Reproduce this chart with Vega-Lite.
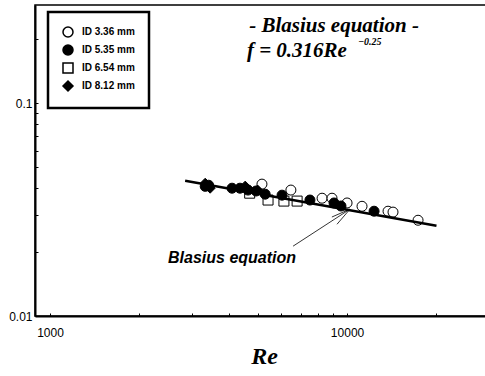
{
  "$schema": "https://vega.github.io/schema/vega-lite/v6.json",
  "autosize": "none",
  "width": 458,
  "height": 311,
  "padding": {"left": 35, "top": 5, "right": 0, "bottom": 60},
  "background": "white",
  "config": {
    "view": {"stroke": "black", "strokeWidth": 1.5},
    "font": "Liberation Sans",
    "axis": {"grid": false, "domainColor": "black", "domainWidth": 2, "tickColor": "black", "labelColor": "black", "labelFont": "Liberation Sans", "labelFontSize": 12},
    "legend": {"strokeColor": "black", "strokeWidth": 2.5, "padding": 14, "labelFontWeight": "bold", "labelFontSize": 10, "labelFont": "Liberation Sans", "labelColor": "black", "rowPadding": 2, "labelOffset": 8, "symbolSize": 100}
  },
  "datasets": {
    "pts": [
      {"Re": 5170, "f": 0.0417, "series": "ID 3.36 mm"},
      {"Re": 6470, "f": 0.0391, "series": "ID 3.36 mm"},
      {"Re": 8240, "f": 0.0358, "series": "ID 3.36 mm"},
      {"Re": 8900, "f": 0.0358, "series": "ID 3.36 mm"},
      {"Re": 10000, "f": 0.0340, "series": "ID 3.36 mm"},
      {"Re": 11230, "f": 0.0328, "series": "ID 3.36 mm"},
      {"Re": 13740, "f": 0.0311, "series": "ID 3.36 mm"},
      {"Re": 14280, "f": 0.0308, "series": "ID 3.36 mm"},
      {"Re": 17340, "f": 0.0282, "series": "ID 3.36 mm"},
      {"Re": 5420, "f": 0.0351, "series": "ID 6.54 mm"},
      {"Re": 6130, "f": 0.0347, "series": "ID 6.54 mm"},
      {"Re": 6790, "f": 0.0347, "series": "ID 6.54 mm"},
      {"Re": 4700, "f": 0.0378, "series": "ID 6.54 mm"},
      {"Re": 3330, "f": 0.0407, "series": "ID 5.35 mm"},
      {"Re": 3420, "f": 0.0412, "series": "ID 5.35 mm"},
      {"Re": 4100, "f": 0.0399, "series": "ID 5.35 mm"},
      {"Re": 4360, "f": 0.0399, "series": "ID 5.35 mm"},
      {"Re": 4640, "f": 0.0391, "series": "ID 5.35 mm"},
      {"Re": 4940, "f": 0.0387, "series": "ID 5.35 mm"},
      {"Re": 5300, "f": 0.0374, "series": "ID 5.35 mm"},
      {"Re": 6040, "f": 0.0370, "series": "ID 5.35 mm"},
      {"Re": 7500, "f": 0.0351, "series": "ID 5.35 mm"},
      {"Re": 9040, "f": 0.0340, "series": "ID 5.35 mm"},
      {"Re": 9540, "f": 0.0329, "series": "ID 5.35 mm"},
      {"Re": 12330, "f": 0.0311, "series": "ID 5.35 mm"},
      {"Re": 3330, "f": 0.0421, "series": "ID 8.12 mm"},
      {"Re": 3460, "f": 0.0399, "series": "ID 8.12 mm"},
      {"Re": 4540, "f": 0.0408, "series": "ID 8.12 mm"},
      {"Re": 5000, "f": 0.0391, "series": "ID 8.12 mm"}
    ],
    "blasius": [
      {"Re": 2850, "f": 0.04325},
      {"Re": 20000, "f": 0.02657}
    ],
    "arrows": [
      {"Re": 6580, "f": 0.0213, "Re2": 10230, "f2": 0.0318},
      {"Re": 8890, "f": 0.0292, "Re2": 10230, "f2": 0.0318},
      {"Re": 9250, "f": 0.0270, "Re2": 10230, "f2": 0.0318}
    ],
    "titles": [
      {"Re": 9040, "f": 0.2320, "text": "- Blasius equation -"}
    ],
    "formula": [
      {"Re": 4600, "f": 0.176, "text": "f = 0.316Re"}
    ],
    "note": [
      {"Re": 4100, "f": 0.01875, "text": "Blasius equation"}
    ],
    "sup": [
      {"Re": 10886, "f": 0.1935, "text": "−0.25"}
    ]
  },
  "layer": [
    {
      "data": {"name": "pts"},
      "mark": {"type": "point", "filled": true, "stroke": "black", "strokeWidth": 1, "size": 100, "opacity": 1},
      "encoding": {
        "x": {"field": "Re", "type": "quantitative", "scale": {"type": "log", "domain": [890, 31000], "nice": false},
          "axis": {"values": [1000, 2000, 3000, 4000, 5000, 6000, 7000, 8000, 9000, 10000, 20000, 30000], "labelExpr": "datum.value == 1000 || datum.value == 10000 ? datum.value : ''", "tickSize": -3, "labelPadding": 14, "title": "Re", "titleFont": "Liberation Serif", "titleFontStyle": "italic", "titleFontWeight": "bold", "titleFontSize": 24, "titlePadding": 6, "titleColor": "black"}},
        "y": {"field": "f", "type": "quantitative", "scale": {"type": "log", "domain": [0.01, 0.29], "nice": false},
          "axis": {"values": [0.01, 0.02, 0.03, 0.04, 0.05, 0.06, 0.07, 0.08, 0.09, 0.1, 0.2], "labelExpr": "datum.value == 0.1 || datum.value == 0.01 ? datum.value : ''", "tickSize": -3, "labelPadding": 6, "title": null}},
        "shape": {"field": "series", "type": "nominal", "scale": {"domain": ["ID 3.36 mm", "ID 5.35 mm", "ID 6.54 mm", "ID 8.12 mm"], "range": ["circle", "circle", "square", "diamond"]},
          "legend": {"title": null, "orient": "none", "legendX": 13, "legendY": 7, "encode": {"symbols": {"update": {"stroke": {"value": "black"}, "strokeWidth": {"value": 1}}}}}},
        "fill": {"field": "series", "type": "nominal", "scale": {"domain": ["ID 3.36 mm", "ID 5.35 mm", "ID 6.54 mm", "ID 8.12 mm"], "range": ["white", "black", "white", "black"]},
          "legend": {"title": null, "orient": "none", "legendX": 13, "legendY": 7, "encode": {"symbols": {"update": {"stroke": {"value": "black"}, "strokeWidth": {"value": 1}}}}}}
      }
    },
    {
      "data": {"name": "blasius"},
      "mark": {"type": "line", "color": "black", "strokeWidth": 2.5},
      "encoding": {
        "x": {"field": "Re", "type": "quantitative"},
        "y": {"field": "f", "type": "quantitative"}
      }
    },
    {
      "data": {"name": "arrows"},
      "mark": {"type": "rule", "color": "black", "strokeWidth": 0.8},
      "encoding": {
        "x": {"field": "Re", "type": "quantitative"},
        "y": {"field": "f", "type": "quantitative"},
        "x2": {"field": "Re2"},
        "y2": {"field": "f2"}
      }
    },
    {
      "data": {"name": "titles"},
      "mark": {"type": "text", "font": "Liberation Serif", "fontStyle": "italic", "fontWeight": "bold", "fontSize": 21, "color": "black", "align": "center", "baseline": "middle"},
      "encoding": {
        "x": {"field": "Re", "type": "quantitative"},
        "y": {"field": "f", "type": "quantitative"},
        "text": {"field": "text"}
      }
    },
    {
      "data": {"name": "formula"},
      "mark": {"type": "text", "font": "Liberation Serif", "fontStyle": "italic", "fontWeight": "bold", "fontSize": 21, "color": "black", "align": "left", "baseline": "middle"},
      "encoding": {
        "x": {"field": "Re", "type": "quantitative"},
        "y": {"field": "f", "type": "quantitative"},
        "text": {"field": "text"}
      }
    },
    {
      "data": {"name": "note"},
      "mark": {"type": "text", "font": "Liberation Sans", "fontStyle": "italic", "fontWeight": "bold", "fontSize": 16, "color": "black", "align": "center", "baseline": "middle"},
      "encoding": {
        "x": {"field": "Re", "type": "quantitative"},
        "y": {"field": "f", "type": "quantitative"},
        "text": {"field": "text"}
      }
    },
    {
      "data": {"name": "sup"},
      "mark": {"type": "text", "font": "Liberation Serif", "fontStyle": "italic", "fontWeight": "bold", "fontSize": 10, "color": "black", "align": "left", "baseline": "middle"},
      "encoding": {
        "x": {"field": "Re", "type": "quantitative"},
        "y": {"field": "f", "type": "quantitative"},
        "text": {"field": "text"}
      }
    }
  ]
}
